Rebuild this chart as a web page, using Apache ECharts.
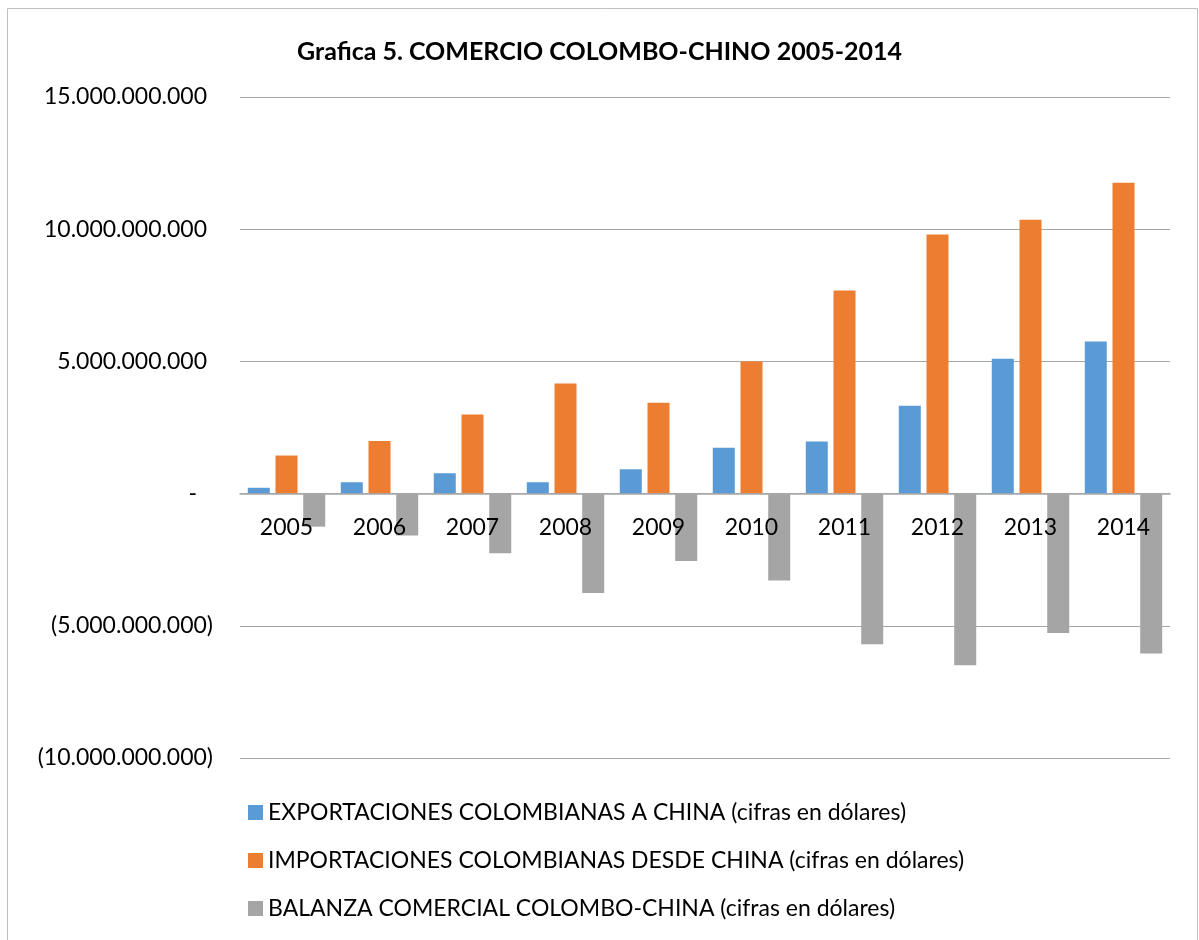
<!DOCTYPE html>
<html>
<head>
<meta charset="utf-8">
<script src="https://cdn.jsdelivr.net/npm/echarts@6/dist/echarts.min.js"></script>
<style>
html,body{margin:0;padding:0;background:#fff;}
#chart{width:1199px;height:940px;}
</style>
</head>
<body>
<div id="chart"></div>
<script>
const titleText = 'Grafica 5. COMERCIO COLOMBO-CHINO 2005-2014';
const years = ['2005','2006','2007','2008','2009','2010','2011','2012','2013','2014'];
const seriesNames = [
  'EXPORTACIONES COLOMBIANAS A CHINA (cifras en dólares)',
  'IMPORTACIONES COLOMBIANAS DESDE CHINA (cifras en dólares)',
  'BALANZA COMERCIAL COLOMBO-CHINA (cifras en dólares)'
];
const exportsData = [220e6, 430e6, 770e6, 430e6, 920e6, 1730e6, 1970e6, 3320e6, 5100e6, 5750e6];
const importsData = [1440e6, 1990e6, 2990e6, 4160e6, 3440e6, 5000e6, 7680e6, 9800e6, 10360e6, 11760e6];
const balanceData = [-1250e6, -1580e6, -2260e6, -3760e6, -2550e6, -3290e6, -5700e6, -6490e6, -5270e6, -6050e6];
const colors = ['#5b9bd5', '#ed7d31', '#a5a5a5'];

function fmtNum(v){
  const s = Math.abs(Math.round(v)).toString();
  return s.replace(/\B(?=(\d{3})+(?!\d))/g, '.');
}

const FONT = 'Lato';
const FS = 23;
const GRID_TOP = 97, GRID_BOTTOM = 182, H = 940;
const Y_MIN = -10e9, Y_MAX = 15e9;
// place the category axis on the zero line of the value axis
const plotH = H - GRID_TOP - GRID_BOTTOM;
const zeroOffset = -plotH * (0 - Y_MIN) / (Y_MAX - Y_MIN);

const chart = echarts.init(document.getElementById('chart'), null, {renderer:'canvas'});
chart.setOption({
  animation: false,
  backgroundColor: '#fff',
  textStyle: {fontFamily: FONT},
  title: {
    text: titleText,
    left: 'center',
    top: 34,
    textStyle: {fontFamily: FONT, fontSize: 25, fontWeight: 'bold', color: '#000'}
  },
  graphic: [{
    type: 'rect',
    shape: {x: 7.5, y: 8.5, width: 1190, height: 1000},
    style: {fill: 'none', stroke: '#bfbfbf', lineWidth: 1},
    silent: true, z: -1
  }],
  legend: {
    orient: 'vertical',
    left: 243,
    top: 796,
    itemWidth: 15,
    itemHeight: 15,
    itemGap: 25,
    icon: 'rect',
    textStyle: {fontFamily: FONT, fontSize: FS, color: '#000'},
    data: seriesNames
  },
  grid: {left: 240, right: 29, top: GRID_TOP, bottom: GRID_BOTTOM, containLabel: false},
  xAxis: {
    type: 'category',
    data: years,
    position: 'bottom',
    offset: zeroOffset,
    z: 10,
    axisLine: {onZero: false, lineStyle: {color: '#a6a6a6', width: 1.5}},
    axisTick: {show: false},
    axisLabel: {fontFamily: FONT, fontSize: FS, color: '#000', margin: 22},
    splitLine: {show: false}
  },
  yAxis: {
    type: 'value',
    min: Y_MIN, max: Y_MAX, interval: 5e9,
    axisLine: {show: false},
    axisTick: {show: false},
    splitLine: {lineStyle: {color: '#a6a6a6', width: 1}},
    axisLabel: {
      margin: 27,
      fontFamily: FONT, fontSize: FS, color: '#000',
      formatter: function(v){
        if (v > 0) return '{p|' + fmtNum(v) + '}';
        if (v === 0) return '{z|-}';
        return '(' + fmtNum(v) + ')';
      },
      rich: {
        p: {fontFamily: FONT, fontSize: FS, color: '#000', padding: [0, 6, 0, 0]},
        z: {fontFamily: FONT, fontSize: FS, color: '#000', padding: [0, 16, 0, 0]}
      }
    }
  },
  series: [
    {name: seriesNames[0], type: 'bar', data: exportsData, barWidth: 22, barGap: '26%', itemStyle: {color: colors[0]}},
    {name: seriesNames[1], type: 'bar', data: importsData, barWidth: 22, barGap: '26%', itemStyle: {color: colors[1]}},
    {name: seriesNames[2], type: 'bar', data: balanceData, barWidth: 22, barGap: '26%', itemStyle: {color: colors[2]}}
  ]
});
</script>
</body>
</html>
